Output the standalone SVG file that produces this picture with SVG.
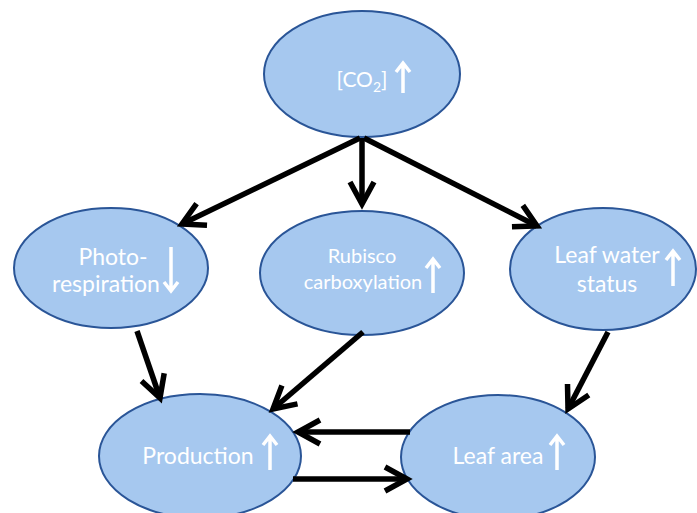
<svg xmlns="http://www.w3.org/2000/svg" width="697" height="513" viewBox="0 0 697 513">
<defs>
<style>
.node ellipse{fill:#a6c8ef;stroke:#2a5597;stroke-width:2}
.node text{fill:#ffffff;font-family:Lato,"Open Sans","Liberation Sans",sans-serif;font-size:23px;text-anchor:middle}
.node .small{font-size:20px}
.node .co{font-size:21px}
.ind{fill:none;stroke:#ffffff;stroke-width:3.5;stroke-linecap:butt}
.conn line{stroke:#000000;stroke-width:5.5;marker-end:url(#ah)}
</style>
<marker id="ah" markerUnits="userSpaceOnUse" viewBox="-30 -16 36 32" refX="0" refY="0" markerWidth="36" markerHeight="32" orient="auto">
<path d="M-22,-12 L0,0 L-22,12" fill="none" stroke="#000" stroke-width="5.5" stroke-linejoin="miter"/>
</marker>
</defs>
<rect width="697" height="513" fill="#ffffff"/>
<g id="co2" class="node">
<ellipse cx="362" cy="74" rx="98" ry="63"/>
<text class="co" x="362" y="87">[CO<tspan font-size="14" dy="5">2</tspan><tspan dy="-5">]</tspan></text>
<path class="ind" d="M403,93 V64 M396,72 L403,63 L410,72"/>
</g>
<g id="photorespiration" class="node">
<ellipse cx="111" cy="268" rx="97" ry="60"/>
<text x="113" y="265">Photo-</text>
<text x="106" y="292">respiration</text>
<path class="ind" d="M171,247 V290 M164,282 L171,291 L178,282"/>
</g>
<g id="rubisco" class="node">
<ellipse cx="362" cy="273" rx="102" ry="62"/>
<text class="small" x="362" y="263">Rubisco</text>
<text class="small" x="363" y="289">carboxylation</text>
<path class="ind" d="M433,293 V260 M426,268 L433,259 L440,268"/>
</g>
<g id="leafwater" class="node">
<ellipse cx="603" cy="269" rx="93" ry="61"/>
<text x="607" y="263">Leaf water</text>
<text x="607" y="292">status</text>
<path class="ind" d="M673,286 V252 M666,260 L673,251 L680,260"/>
</g>
<g id="production" class="node">
<ellipse cx="200" cy="456" rx="101" ry="62"/>
<text x="198" y="464">Production</text>
<path class="ind" d="M270,470 V437 M263,445 L270,436 L277,445"/>
</g>
<g id="leafarea" class="node">
<ellipse cx="498" cy="457" rx="97" ry="62"/>
<text x="498" y="464">Leaf area</text>
<path class="ind" d="M557,470 V437 M550,445 L557,436 L564,445"/>
</g>
<g id="connectors" class="conn">
<line x1="360" y1="138" x2="182" y2="224"/>
<line x1="362" y1="138" x2="362" y2="204"/>
<line x1="364" y1="138" x2="537" y2="226"/>
<line x1="137" y1="331" x2="160" y2="398"/>
<line x1="363" y1="332" x2="273" y2="409"/>
<line x1="608" y1="332" x2="568" y2="409"/>
<line x1="410" y1="432" x2="298" y2="432"/>
<line x1="293" y1="479" x2="407" y2="479"/>
</g>
</svg>
